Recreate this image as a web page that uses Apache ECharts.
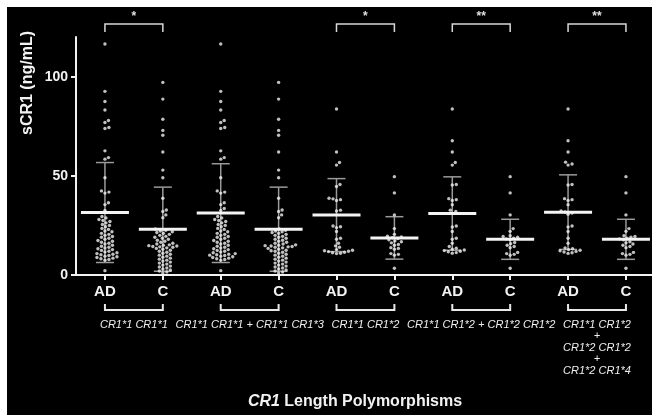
<!DOCTYPE html>
<html><head><meta charset="utf-8">
<script src="https://cdn.jsdelivr.net/npm/echarts@6/dist/echarts.min.js"></script>
<style>html,body{margin:0;padding:0;background:#000}#c{width:652px;height:415px}</style>
</head><body><div id="c"></div>
<script>
// ---- data ----
const categories = ['AD','C','AD','C','AD','C','AD','C','AD','C'];
const groupLabels = ['CR1*1 CR1*1', 'CR1*1 CR1*1 + CR1*1 CR1*3', 'CR1*1 CR1*2', 'CR1*1 CR1*2 + CR1*2 CR1*2', 'CR1*1 CR1*2\n+\nCR1*2 CR1*2\n+\nCR1*2 CR1*4'];
const ad1 = [116.5,92.6,87.5,83.2,77.9,76.9,74.4,73.9,62.6,59.2,58.4,49.0,42.4,41.8,41.3,36.4,35.5,32.5,29.5,28.8,28.0,27.5,27.0,26.3,25.5,25.0,24.3,23.5,23.0,22.2,21.8,21.0,20.5,20.0,19.4,19.0,18.5,18.0,17.4,17.0,16.5,16.0,15.6,15.0,14.5,14.0,13.6,13.2,12.8,12.4,12.0,11.6,11.2,10.8,10.5,10.2,9.8,9.5,9.2,8.8,8.5,8.2,7.8,7.5,2.2];
const c1 = [97.1,88.7,78.5,72.9,70.5,62.0,52.9,49.0,38.7,32.8,32.0,30.3,28.9,23.2,22.6,22.2,21.8,21.4,21.0,20.5,20.0,19.5,19.0,18.5,18.0,17.5,17.0,16.5,16.0,15.6,15.2,15.0,14.8,14.6,14.4,14.2,14.0,13.7,13.4,13.0,12.5,12.0,11.5,11.0,10.5,10.0,9.5,9.0,8.5,8.0,7.5,7.0,6.5,6.0,5.5,5.0,4.5,4.0,3.5,3.0,2.5,2.0,1.5,1.0];
const ad2 = [116.5,92.6,87.5,83.2,77.9,76.9,74.4,73.9,62.6,59.2,58.4,49.0,42.4,41.8,41.3,36.4,35.5,33.5,32.5,29.5,28.8,28.0,27.5,27.0,26.3,25.5,25.0,24.3,23.5,23.0,22.2,21.8,21.0,20.5,20.0,19.4,19.0,18.5,18.0,17.4,17.0,16.5,16.0,15.6,15.0,14.5,14.0,13.6,13.2,12.8,12.4,12.0,11.6,11.2,10.8,10.5,10.2,10.0,9.8,9.5,9.2,8.8,8.5,8.2,7.8,7.5,2.2];
const c2 = [97.1,88.7,78.5,72.9,70.5,62.0,52.9,49.0,38.7,32.8,32.0,30.3,28.9,23.2,22.6,22.2,21.8,21.4,21.0,20.5,20.0,19.5,19.0,18.5,18.0,17.5,17.0,16.5,16.0,15.6,15.2,15.0,14.8,14.6,14.4,14.2,14.0,13.7,13.4,13.0,12.5,12.2,12.0,11.5,11.0,10.5,10.0,9.5,9.0,8.5,8.0,7.5,7.0,6.5,6.0,5.5,5.0,4.5,4.0,3.5,3.0,2.5,2.0,1.5,1.0];
const ad3 = [83.7,62.0,56.7,55.4,45.6,44.6,38.7,38.4,38.0,37.6,32.7,32.3,24.7,24.3,23.9,21.9,18.5,18.0,16.0,14.7,14.0,12.8,12.5,12.2,12.0,11.8,11.5,11.2,11.0,10.8];
const c3 = [49.6,41.4,30.3,23.4,20.5,19.6,19.2,18.8,18.4,17.8,17.2,16.8,16.2,15.4,15.0,13.8,13.4,13.0,10.8,10.4,10.0,3.4];
const ad4 = [83.7,67.7,62.0,56.7,55.4,45.6,45.4,38.5,38.0,37.6,35.4,32.7,32.0,31.0,24.7,24.2,21.9,18.5,18.0,16.0,14.4,13.5,13.0,12.6,12.3,12.0,11.7,11.3,11.0];
const c4 = [49.6,41.4,30.3,23.4,22.0,19.8,19.4,19.0,18.6,18.2,17.8,16.4,15.8,15.0,14.4,13.8,11.4,10.8,10.4,10.0,3.4];
const ad5 = [83.7,67.7,62.0,56.9,56.0,55.4,45.6,45.4,38.5,38.0,37.6,35.4,32.3,31.8,31.2,30.6,24.7,24.2,21.9,18.5,16.0,13.6,13.2,12.8,12.5,12.2,11.9,11.6,11.2,10.9];
const c5 = [49.6,41.4,30.3,23.4,22.0,19.8,19.4,19.0,18.6,18.2,17.8,16.8,16.2,15.6,15.0,14.4,13.8,11.4,10.8,10.4,10.0,3.4];
const means = [31.5,23.1,31.2,23.1,30.2,18.7,31.0,18.0,31.7,18.0];
const sds = [25.2,21.2,24.9,21.2,18.4,10.7,18.5,10.1,18.8,10.1];
const sigPairs = [[0,1],[4,5],[6,7],[8,9]];
const sigLabels = ['*','*','**','**'];
const yTicks = [0,50,100];
const xTitle = 'Length Polymorphisms';
const yTitle = 'sCR1 (ng/mL)';

const groups = [ad1,c1,ad2,c2,ad3,c3,ad4,c4,ad5,c5];
const FONT = '"Liberation Sans", Arial, sans-serif';
const chart = echarts.init(document.getElementById('c'), null, {renderer:'canvas'});

const base = {
  backgroundColor:'#000',
  animation:false,
  grid:{left:76, right:0, top:37, bottom:140, containLabel:false},
  xAxis:{type:'value', min:-0.5, max:9.45,
    axisLine:{show:true, onZero:false, lineStyle:{color:'#f2f2f2', width:2}},
    axisTick:{show:true, length:5, lineStyle:{color:'#f2f2f2', width:2}, customValues:[0,1,2,3,4,5,6,7,8,9]},
    axisLabel:{color:'#f2f2f2', fontFamily:FONT, fontWeight:'bold', fontSize:15, margin:9,
      customValues:[0,1,2,3,4,5,6,7,8,9], formatter:v=>categories[Math.round(v)]},
    splitLine:{show:false}},
  yAxis:{type:'value', min:0, max:120,
    axisLine:{show:true, onZero:false, lineStyle:{color:'#f2f2f2', width:2}},
    axisTick:{show:true, length:5, lineStyle:{color:'#f2f2f2', width:2}, customValues:yTicks},
    axisLabel:{color:'#f2f2f2', fontFamily:FONT, fontWeight:'bold', fontSize:14, margin:8, customValues:yTicks},
    splitLine:{show:false}},
  graphic:[
    {type:'rect', shape:{x:0,y:0,width:652,height:7}, style:{fill:'#fff'}, z:100},
    {type:'rect', shape:{x:0,y:0,width:7,height:415}, style:{fill:'#fff'}, z:100},
    {type:'text', x:28, y:83, rotation:Math.PI/2, style:{text:yTitle, fill:'#f2f2f2', font:'bold 16px '+FONT, align:'center', verticalAlign:'middle'}},
    {type:'text', x:355, y:402, style:{text:'{i|CR1} '+xTitle, fill:'#f2f2f2', font:'bold 16px '+FONT, align:'center', verticalAlign:'middle',
      rich:{i:{fontStyle:'italic', fontWeight:'bold', fontSize:16, fontFamily:FONT, fill:'#f2f2f2'}}}}
  ],
  series:[]
};
chart.setOption(base);

// beeswarm layout in pixel space
const yPx = v => chart.convertToPixel({yAxisIndex:0}, v);
const pxPerX = chart.convertToPixel({xAxisIndex:0}, 1) - chart.convertToPixel({xAxisIndex:0}, 0);
const D = 3.8;
const dots = [];
groups.forEach((vals, gi) => {
  const sorted = vals.slice().sort((a,b)=>a-b);
  const placed = [];
  sorted.forEach(v => {
    const py = yPx(v);
    let off = 0;
    for (let k = 0; k < 200; k++) {
      const cand = (k % 2 === 1 ? 1 : -1) * Math.ceil(k/2) * 0.5;
      let ok = true;
      for (const p of placed) {
        const dx = p[0]-cand, dy = p[1]-py;
        if (dx*dx+dy*dy < D*D) { ok = false; break; }
      }
      if (ok) { off = cand; break; }
    }
    placed.push([off, py]);
    dots.push([gi + off/pxPerX, v]);
  });
});

const statData = means.map((m,i)=>[i, m, sds[i]]);

chart.setOption({series:[
  {type:'custom', z:1, clip:false, data:statData,
    renderItem:(p, api)=>{
      const x=api.value(0), m=api.value(1), s=api.value(2);
      const h=api.coord([x,m+s]), l=api.coord([x,m-s]);
      const st={stroke:'#9a9a9a', lineWidth:1.5};
      return {type:'group', children:[
        {type:'line', shape:{x1:h[0],y1:h[1],x2:l[0],y2:l[1]}, style:st},
        {type:'line', shape:{x1:h[0]-9,y1:h[1],x2:h[0]+9,y2:h[1]}, style:st},
        {type:'line', shape:{x1:l[0]-9,y1:l[1],x2:l[0]+9,y2:l[1]}, style:st}
      ]};
    }},
  {type:'scatter', z:2, data:dots, symbol:'circle', symbolSize:3.4,
    itemStyle:{color:'#f0f0f0'}, silent:true},
  {type:'custom', z:3, clip:false, data:statData,
    renderItem:(p, api)=>{
      const c=api.coord([api.value(0), api.value(1)]);
      return {type:'line', shape:{x1:c[0]-24,y1:c[1],x2:c[0]+24,y2:c[1]}, style:{stroke:'#f4f4f4', lineWidth:3}};
    }},
  {type:'custom', z:3, clip:false, data:sigPairs.map(p=>[p[0],p[1]]),
    renderItem:(p, api)=>{
      const a=api.coord([api.value(0),120]), b=api.coord([api.value(1),120]);
      const y=a[1]-13;
      return {type:'group', children:[
        {type:'polyline', shape:{points:[[a[0],y+8],[a[0],y],[b[0],y],[b[0],y+8]]}, style:{stroke:'#d8d8d8', lineWidth:1.5, fill:null}},
        {type:'text', x:(a[0]+b[0])/2, y:y-7, style:{text:sigLabels[p.dataIndex], fill:'#e0e0e0', font:'bold 12px '+FONT, align:'center', verticalAlign:'middle'}}
      ]};
    }},
  {type:'custom', z:3, clip:false, data:groupLabels.map((g,i)=>[2*i, 2*i+1]),
    renderItem:(p, api)=>{
      const a=api.coord([api.value(0),0]), b=api.coord([api.value(1),0]);
      const y=a[1]+35;
      return {type:'group', children:[
        {type:'polyline', shape:{points:[[a[0],y-6],[a[0],y],[b[0],y],[b[0],y-6]]}, style:{stroke:'#e8e8e8', lineWidth:2, fill:null}},
        {type:'text', x:(a[0]+b[0])/2, y:y+9, style:{text:groupLabels[p.dataIndex], fill:'#f0f0f0', font:'italic 11px '+FONT, align:'center', verticalAlign:'top', lineHeight:11.5}}
      ]};
    }}
]});
</script></body></html>
